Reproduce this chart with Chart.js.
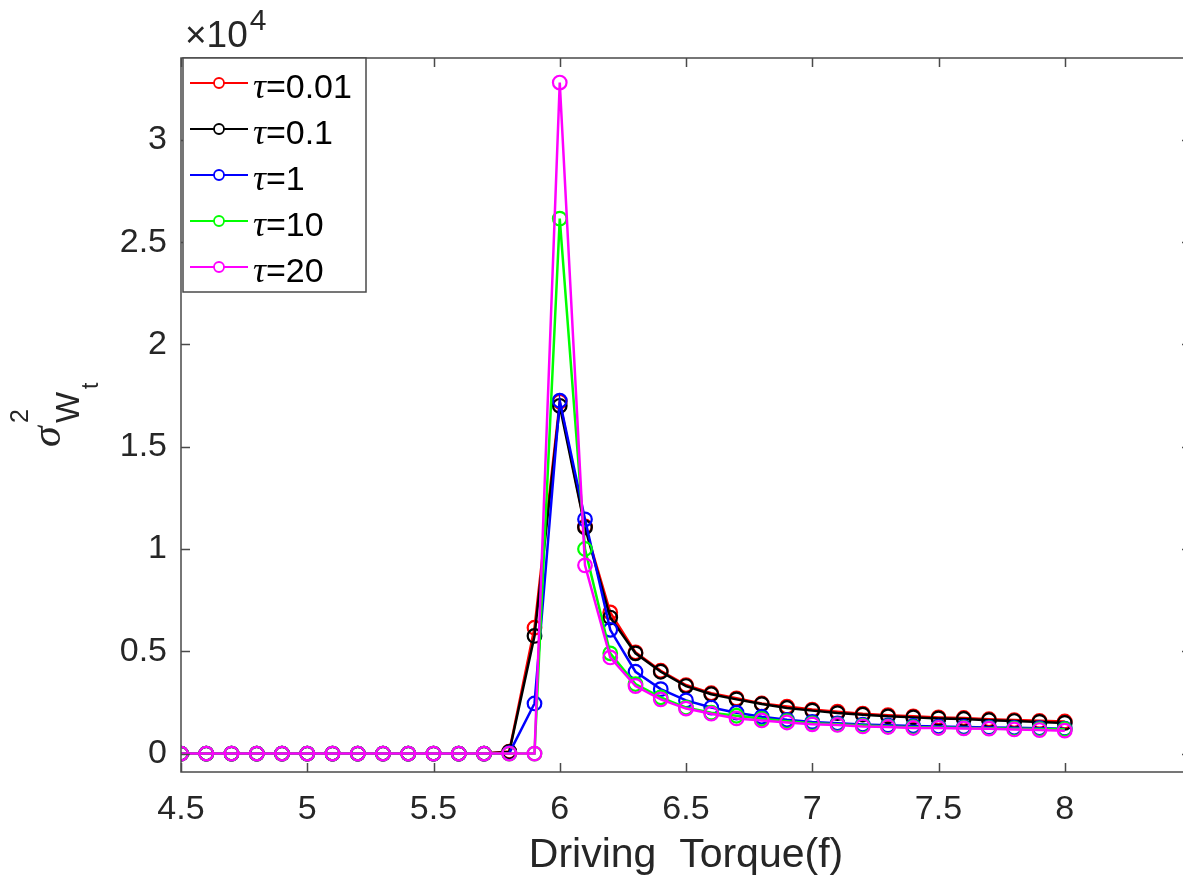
<!DOCTYPE html>
<html>
<head>
<meta charset="utf-8">
<script src="https://cdn.jsdelivr.net/npm/chart.js@4.4.0/dist/chart.umd.min.js"></script>
<style>
  html, body { margin: 0; padding: 0; background: #fff; overflow: hidden; }
  #wrap { position: relative; width: 1200px; height: 894px; }
</style>
</head>
<body>
<div id="wrap"><canvas id="chart" width="1200" height="894"></canvas></div>
<script>
// Driving torque f
const torque = [4.5, 4.6, 4.7, 4.8, 4.9, 5.0, 5.1, 5.2, 5.3, 5.4, 5.5, 5.6, 5.7,
                5.8, 5.9, 6.0, 6.1, 6.2, 6.3, 6.4, 6.5, 6.6, 6.7, 6.8, 6.9,
                7.0, 7.1, 7.2, 7.3, 7.4, 7.5, 7.6, 7.7, 7.8, 7.9, 8.0];

const tauLabels = ["0.01", "0.1", "1", "10", "20"];

// variance of work, one list per tau
const varTau001 = [0, 0, 0, 0, 0, 0, 0, 0, 0, 0, 0, 0, 0,
  100, 6150, 17200, 11100, 6900, 4950, 4050, 3350, 2950, 2700,
  2450, 2300, 2150, 2050, 1950, 1880, 1820, 1770, 1740, 1680, 1640, 1600, 1570];
const varTau01 = [0, 0, 0, 0, 0, 0, 0, 0, 0, 0, 0, 0, 0,
  80, 5750, 17000, 11050, 6650, 4900, 4000, 3300, 2900, 2650,
  2420, 2230, 2100, 1980, 1900, 1820, 1770, 1720, 1690, 1630, 1590, 1550, 1500];
const varTau1 = [0, 0, 0, 0, 0, 0, 0, 0, 0, 0, 0, 0, 0,
  20, 2450, 17250, 11450, 6050, 4000, 3150, 2600, 2250, 2000,
  1800, 1650, 1550, 1480, 1420, 1380, 1350, 1320, 1300, 1280, 1260, 1240, 1220];
const varTau10 = [0, 0, 0, 0, 0, 0, 0, 0, 0, 0, 0, 0, 0,
  0, 0, 26150, 10000, 4900, 3400, 2750, 2250, 2000, 1850,
  1700, 1580, 1480, 1430, 1370, 1330, 1290, 1270, 1250, 1240, 1220, 1200, 1190];
const varTau20 = [0, 0, 0, 0, 0, 0, 0, 0, 0, 0, 0, 0, 0,
  0, 0, 32800, 9200, 4700, 3300, 2650, 2200, 1950, 1720,
  1620, 1520, 1430, 1400, 1330, 1300, 1250, 1250, 1230, 1220, 1180, 1150, 1120];

// tick positions
const xTicks = [4.5, 5, 5.5, 6, 6.5, 7, 7.5, 8];
const yTicks = [0, 5000, 10000, 15000, 20000, 25000, 30000];

const seriesValues = [varTau001, varTau01, varTau1, varTau10, varTau20];
const colors = ["#ff0000", "#000000", "#0000ff", "#00ff00", "#ff00ff"];

const TXT = "#262626";
const SANS = '"Liberation Sans", Arial, sans-serif';
const SERIF = '"Liberation Serif", "Times New Roman", serif';

const datasets = seriesValues.map((vals, i) => ({
  label: tauLabels[i],
  data: torque.map((x, k) => ({ x: x, y: vals[k] })),
  borderColor: colors[i],
  pointBorderColor: colors[i],
  pointBackgroundColor: "rgba(0,0,0,0)",
  borderWidth: 2.5,
  pointRadius: 6.8,
  pointBorderWidth: 2.2,
  tension: 0,
  fill: false,
  order: seriesValues.length - i,   // last series drawn on top
}));

// MATLAB-like box, inward ticks, exponent, y label and legend
const matlabDecor = {
  id: "matlabDecor",
  afterDraw(chart) {
    const { ctx, chartArea: a, scales: { x, y } } = chart;
    ctx.save();

    ctx.strokeStyle = "#4a4a4a";
    ctx.lineWidth = 1.5;
    ctx.strokeRect(a.left, a.top, a.right - a.left, a.bottom - a.top);

    const tl = 9;
    ctx.beginPath();
    x.ticks.forEach(t => {
      const px = Math.round(x.getPixelForValue(t.value)) + 0.5;
      ctx.moveTo(px, a.bottom); ctx.lineTo(px, a.bottom - tl);
      ctx.moveTo(px, a.top);    ctx.lineTo(px, a.top + tl);
    });
    y.ticks.forEach(t => {
      const py = Math.round(y.getPixelForValue(t.value)) + 0.5;
      ctx.moveTo(a.left, py);  ctx.lineTo(a.left + tl, py);
      ctx.moveTo(a.right, py); ctx.lineTo(a.right - tl, py);
    });
    ctx.stroke();

    // x10^4
    ctx.fillStyle = TXT;
    ctx.textBaseline = "alphabetic";
    ctx.textAlign = "left";
    ctx.font = "37px " + SANS;
    ctx.fillText("\u00d710", a.left + 4, 47);
    const w10 = ctx.measureText("\u00d710").width;
    ctx.font = "30px " + SANS;
    ctx.fillText("4", a.left + 6 + w10, 30);

    // y label: sigma^2_{W_t}, rotated
    ctx.save();
    ctx.rotate(-Math.PI / 2);
    ctx.font = "italic 42px " + SERIF;
    ctx.fillText("\u03c3", -447, 60);
    ctx.font = "25px " + SANS;
    ctx.fillText("2", -423, 28);
    ctx.font = "33px " + SANS;
    ctx.fillText("W", -423, 79);
    ctx.font = "23px " + SANS;
    ctx.fillText("t", -389, 98);
    ctx.restore();

    // legend
    const lx = a.left + 2, ly = a.top, lw = 183, lh = 234;
    ctx.fillStyle = "#fff";
    ctx.fillRect(lx, ly, lw, lh);
    ctx.strokeStyle = "#4a4a4a";
    ctx.lineWidth = 1.5;
    ctx.strokeRect(lx, ly, lw, lh);
    chart.data.datasets.forEach((ds, i) => {
      const cy = ly + 25 + i * 46;
      ctx.strokeStyle = ds.borderColor;
      ctx.lineWidth = 1.8;
      ctx.beginPath();
      ctx.moveTo(lx + 7, cy); ctx.lineTo(lx + 65, cy);
      ctx.stroke();
      ctx.beginPath();
      ctx.arc(lx + 36, cy, 5, 0, Math.PI * 2);
      ctx.fillStyle = "#fff";
      ctx.fill();
      ctx.stroke();
      ctx.fillStyle = "#000";
      ctx.font = "italic 36px " + SERIF;
      ctx.fillText("\u03c4", lx + 70, cy + 15);
      const wt = ctx.measureText("\u03c4").width;
      ctx.font = "34px " + SANS;
      ctx.fillText("=" + ds.label, lx + 70 + wt, cy + 15);
    });

    ctx.restore();
  }
};

new Chart(document.getElementById("chart"), {
  type: "line",
  data: { datasets: datasets },
  options: {
    responsive: false,
    animation: false,
    devicePixelRatio: 1,
    layout: { padding: { top: 58, right: 8, left: 0, bottom: 0 } },
    plugins: {
      legend: { display: false },
      tooltip: { enabled: false },
    },
    scales: {
      x: {
        type: "linear",
        min: 4.5,
        max: 8.5,
        grid: { display: false, drawTicks: false },
        border: { display: false },
        afterBuildTicks: (s) => { s.ticks = xTicks.map(v => ({ value: v })); },
        afterFit: (s) => { s.height = 122; },
        ticks: {
          color: TXT,
          font: { family: SANS, size: 34 },
          padding: 17,
          maxRotation: 0,
          autoSkip: false,
          callback: (v) => String(v),
        },
        title: {
          display: true,
          text: "Driving  Torque(f)",
          color: TXT,
          font: { family: SANS, size: 41 },
          padding: { top: 0, bottom: 14 },
        },
      },
      y: {
        min: -900,
        max: 34000,
        grid: { display: false, drawTicks: false },
        border: { display: false },
        afterBuildTicks: (s) => { s.ticks = yTicks.map(v => ({ value: v })); },
        afterFit: (s) => { s.width = 181; },
        ticks: {
          color: TXT,
          font: { family: SANS, size: 34 },
          padding: 14,
          autoSkip: false,
          callback: (v) => String(v / 1e4),
        },
      },
    },
  },
  plugins: [matlabDecor],
});
</script>
</body>
</html>
